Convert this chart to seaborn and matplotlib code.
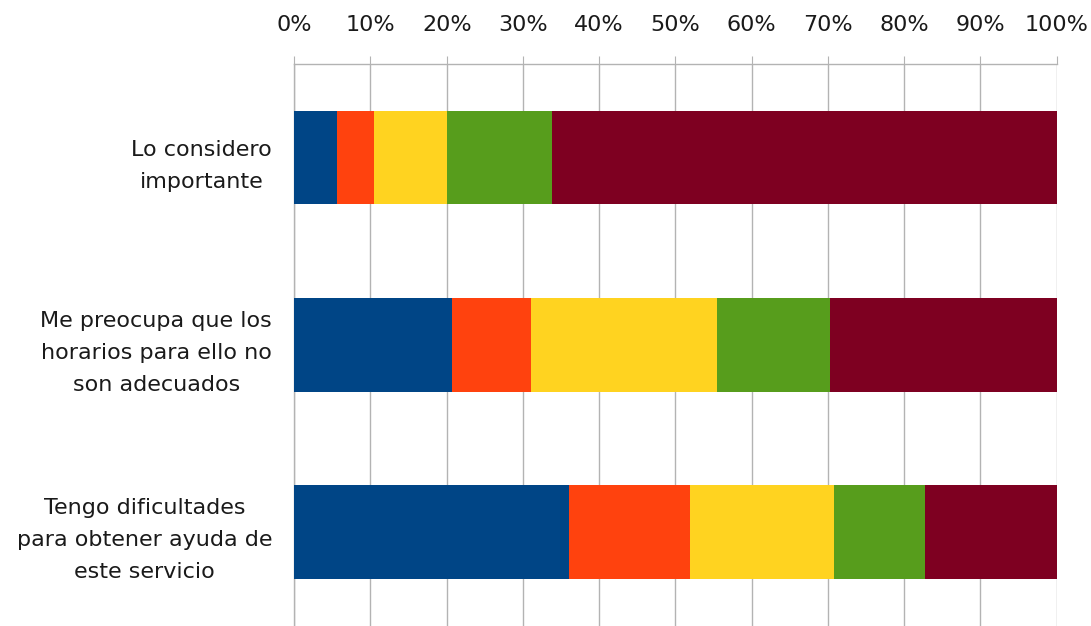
import numpy as np
import pandas as pd
import matplotlib
matplotlib.use("Agg")
import matplotlib.pyplot as plt
import seaborn as sns

# data (percent of answers per level)
categories = [
    "Lo considero\nimportante",
    "Me preocupa que los\nhorarios para ello no\nson adecuados",
    "Tengo dificultades\npara obtener ayuda de\neste servicio",
]
levels = ["1", "2", "3", "4", "5"]
level_1 = [5.6, 20.7, 36.1]
level_2 = [4.8, 10.4, 15.8]
level_3 = [9.7, 24.3, 18.9]
level_4 = [13.7, 14.9, 11.9]
level_5 = [66.2, 29.7, 17.3]
colors = ["#004586", "#ff420e", "#ffd320", "#579d1c", "#7e0021"]
x_ticks = [0, 10, 20, 30, 40, 50, 60, 70, 80, 90, 100]

sns.set_style("white")
plt.rcParams["font.family"] = ["DejaVu Sans"]

df = pd.DataFrame({"category": categories, "1": level_1, "2": level_2,
                   "3": level_3, "4": level_4, "5": level_5})
cum = df[levels].cumsum(axis=1)

fig = plt.figure(figsize=(10.91, 6.26), dpi=100)
ax = fig.add_axes([0.2697, 0.0, 0.9685 - 0.2697, 0.8978])

# stacked bars: draw the longest cumulative first, shorter ones on top
for lev, col in reversed(list(zip(levels, colors))):
    sns.barplot(x=cum[lev], y=df["category"], color=col, width=0.5,
                orient="h", saturation=1, linewidth=0, ax=ax, zorder=3)

grid_col = "#b3b3b3"
ax.set_xlim(0, 100)
ax.set_ylim(2.5, -0.5)
ax.set_xticks(x_ticks)
ax.set_xticklabels([f"{t}%" for t in x_ticks])
ax.xaxis.tick_top()
ax.grid(axis="x", color=grid_col, linewidth=1, zorder=0)
ax.set_axisbelow(True)
ax.tick_params(axis="x", direction="out", length=6, color=grid_col,
               labelsize=16, labelcolor="#1a1a1a", pad=15)
ax.set_yticks([0, 1, 2])
ax.set_yticks([-0.5, 0.5, 1.5, 2.5], minor=True)
ax.tick_params(axis="y", which="major", length=0, pad=16)
ax.tick_params(axis="y", which="minor", direction="out", length=6, color=grid_col)
for lbl in ax.get_yticklabels():
    lbl.set_fontsize(16)
    lbl.set_color("#1a1a1a")
    lbl.set_multialignment("center")
    lbl.set_linespacing(1.75)
ax.set_xlabel("")
ax.set_ylabel("")
for side in ["right", "bottom"]:
    ax.spines[side].set_visible(False)
for side in ["top", "left"]:
    ax.spines[side].set_color(grid_col)
    ax.spines[side].set_linewidth(1)

fig.savefig("out.png", dpi=100)
